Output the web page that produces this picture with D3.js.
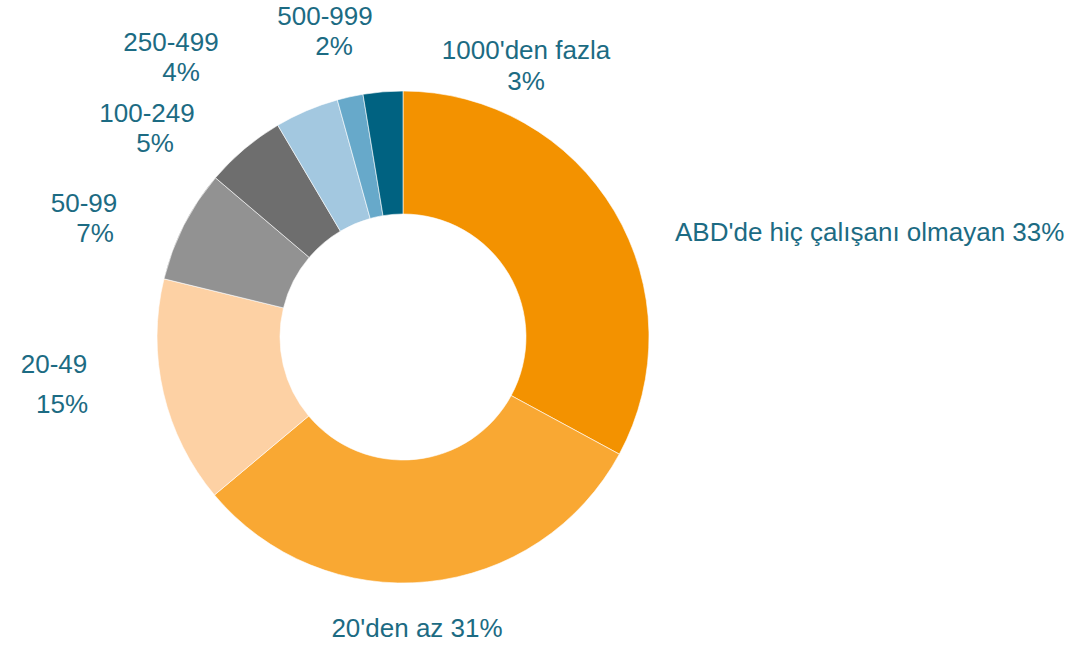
<!DOCTYPE html>
<html>
<head>
<meta charset="utf-8">
<script src="https://cdn.jsdelivr.net/npm/d3@7"></script>
<style>
  body { margin: 0; background: #fff; }
  svg text { font-family: "Liberation Sans", Arial, sans-serif; font-size: 26px; fill: #1c6b83; }
</style>
</head>
<body>
<div id="chart"></div>
<script>
var categories = ["ABD'de hiç çalışanı olmayan", "20'den az", "20-49", "50-99", "100-249", "250-499", "500-999", "1000'den fazla"];
// slice sizes (unrounded), and the rounded figures printed on it
var shares = [32.9, 31.0, 14.9, 7.4, 5.3, 4.2, 1.7, 2.6];
var pctLabels = [33, 31, 15, 7, 5, 4, 2, 3];
var colors = ["#f39200", "#f9a833", "#fdd1a4", "#929292", "#6e6e6e", "#a3c8e0", "#67a9ca", "#006281"];

// label placement (hand tuned, like the original)
var labelLayout = [
  { anchor: "start", lines: [[675, 241]], oneLine: true },
  { anchor: "middle", lines: [[417, 637]], oneLine: true },
  { anchor: "middle", lines: [[54, 373], [62, 413]] },
  { anchor: "middle", lines: [[84, 212], [95, 242]] },
  { anchor: "middle", lines: [[147, 122], [155, 152]] },
  { anchor: "middle", lines: [[171, 51], [181, 81]] },
  { anchor: "middle", lines: [[325, 25], [334, 55]] },
  { anchor: "middle", lines: [[526, 59], [526, 90]] }
];

var w = 1069, h = 646;
var cx = 403, cy = 337, outerR = 246, innerR = 123;

var svg = d3.select("#chart").append("svg")
  .attr("width", w)
  .attr("height", h);

var pie = d3.pie().sort(null).value(function(d) { return d; });
var arc = d3.arc().innerRadius(innerR).outerRadius(outerR);

svg.append("g")
  .attr("transform", "translate(" + cx + "," + cy + ")")
  .selectAll("path")
  .data(pie(shares))
  .enter()
  .append("path")
  .attr("d", arc)
  .attr("fill", function(d, i) { return colors[i]; })
  .attr("stroke", "#fff")
  .attr("stroke-width", 0.6);

var labels = svg.append("g").selectAll("text")
  .data(categories)
  .enter()
  .append("text")
  .attr("text-anchor", function(d, i) { return labelLayout[i].anchor; });

labels.each(function(d, i) {
  var lay = labelLayout[i];
  var parts = lay.oneLine ? [d + " " + pctLabels[i] + "%"] : [d, pctLabels[i] + "%"];
  d3.select(this).selectAll("tspan")
    .data(parts)
    .enter()
    .append("tspan")
    .attr("x", function(p, j) { return lay.lines[j][0]; })
    .attr("y", function(p, j) { return lay.lines[j][1]; })
    .text(function(p) { return p; });
});
</script>
</body>
</html>
